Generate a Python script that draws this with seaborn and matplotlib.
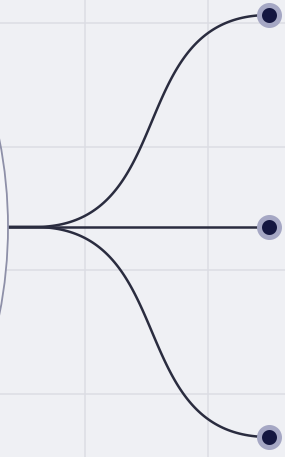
import numpy as np
import pandas as pd
import matplotlib
matplotlib.use("Agg")
import matplotlib.pyplot as plt
from matplotlib.patches import Circle
import seaborn as sns

# data: root on the left, three children on the right (pixel-like coordinates)
root_x = -442
root_y = 227
root_r = 450
child_names = ["top", "middle", "bottom"]
child_x = [269, 269, 269]
child_y = [15, 227, 437]

# where the links stop being straight and start to bend
bend_x = 35

sns.set_theme(style="white")
fig = plt.figure(figsize=(2.85, 4.57), dpi=100)
ax = fig.add_axes([0, 0, 1, 1])
bg = "#eff0f4"
fig.patch.set_facecolor(bg)
ax.set_facecolor(bg)

# background grid
ax.set_xticks([85, 208])
ax.set_yticks([23, 147, 270, 394])
ax.grid(True, color="#dcdde4", linewidth=1.1)
ax.tick_params(length=0, labelbottom=False, labelleft=False)
for s in ax.spines.values():
    s.set_visible(False)


def link(x0, y0, x1, y1, n=120):
    # cubic bezier with crossed control points -> steep middle
    k = 0.62 * (x1 - x0)
    t = np.linspace(0, 1, n)[:, None]
    p0 = np.array([x0, y0]); p1 = np.array([x0 + k, y0])
    p2 = np.array([x1 - k, y1]); p3 = np.array([x1, y1])
    pts = ((1 - t) ** 3) * p0 + 3 * ((1 - t) ** 2) * t * p1 + 3 * (1 - t) * t ** 2 * p2 + t ** 3 * p3
    return np.vstack([[root_x, y0], pts])


rows = []
for name, cx, cy in zip(child_names, child_x, child_y):
    pts = link(bend_x, root_y, cx, cy)
    for i, (px, py) in enumerate(pts):
        rows.append({"child": name, "order": i, "x": px, "y": py})
links = pd.DataFrame(rows)

for name in child_names:
    d = links[links["child"] == name]
    sns.lineplot(data=d, x="x", y="y", sort=False, estimator=None, ax=ax,
                 color="#2a2c3f", linewidth=1.8, zorder=2)

# root node (big circle, mostly off-canvas)
ax.add_patch(Circle((root_x, root_y), root_r, facecolor="#f4f5f8",
                    edgecolor="#8e90a8", linewidth=1.3, zorder=3))

nodes = pd.DataFrame({"name": child_names, "x": child_x, "y": child_y})
sns.scatterplot(data=nodes, x="x", y="y", ax=ax, s=207, color="#141640",
                edgecolor="#a5a7c4", linewidth=3.6, zorder=4, legend=False)

ax.set_xlim(0, 285)
ax.set_ylim(457, 0)
ax.set_xlabel("")
ax.set_ylabel("")

fig.savefig("out.png", dpi=100, facecolor=bg)
